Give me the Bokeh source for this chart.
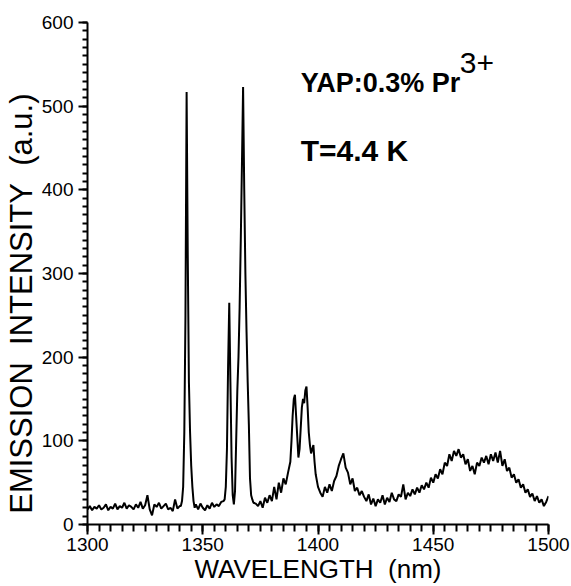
from bokeh.plotting import figure
from bokeh.models import Range1d, Label, SingleIntervalTicker
from bokeh.embed import file_html
from bokeh.resources import INLINE

# ---- data ----
wavelength_nm = [
    1300, 1301, 1302, 1303, 1304, 1305, 1306, 1307, 1308, 1309,
    1310, 1311, 1312, 1313, 1314, 1315, 1316, 1317, 1318, 1319,
    1320, 1321, 1322, 1323, 1324, 1325, 1326, 1327, 1328, 1329,
    1330, 1331, 1332, 1333, 1334, 1335, 1336, 1337, 1338, 1339, 1340,
    1340.5, 1341, 1341.5, 1342, 1342.5, 1343, 1343.5, 1344, 1344.5, 1345, 1345.5, 1346, 1346.5,
    1347, 1348, 1349, 1350, 1351, 1352, 1353, 1354, 1355, 1356, 1357, 1358,
    1359, 1359.5, 1360, 1360.5, 1361, 1361.5, 1362, 1362.5, 1363, 1363.5,
    1364, 1364.5, 1365, 1365.5, 1366, 1366.5, 1367, 1367.5, 1368, 1368.5,
    1369, 1369.5, 1370, 1370.5, 1371, 1371.5, 1372,
    1373, 1374, 1375, 1376, 1377, 1378, 1379, 1380, 1381, 1382, 1383, 1384, 1385, 1386, 1387, 1388,
    1388.5, 1389, 1389.5, 1390, 1390.5, 1391, 1391.5, 1392, 1392.5, 1393, 1393.5,
    1394, 1394.5, 1395, 1395.5, 1396, 1396.5, 1397, 1397.5, 1398, 1398.5, 1399,
    1400, 1401, 1402, 1403, 1404, 1405, 1406, 1407, 1408, 1409,
    1410, 1411, 1412, 1413, 1414, 1415, 1416, 1417, 1418, 1419,
    1420, 1421, 1422, 1423, 1424, 1425, 1426, 1427, 1428, 1429,
    1430, 1431, 1432, 1433, 1434, 1435, 1436, 1437, 1438, 1439,
    1440, 1441, 1442, 1443, 1444, 1445, 1446, 1447, 1448, 1449,
    1450, 1451, 1452, 1453, 1454, 1455, 1456, 1457, 1458, 1459,
    1460, 1461, 1462, 1463, 1464, 1465, 1466, 1467, 1468, 1469,
    1470, 1471, 1472, 1473, 1474, 1475, 1476, 1477, 1478, 1479,
    1480, 1481, 1482, 1483, 1484, 1485, 1486, 1487, 1488, 1489,
    1490, 1491, 1492, 1493, 1494, 1495, 1496, 1497, 1498, 1499, 1500,
]

intensity_au = [
    18, 22, 17, 21, 19, 23, 18, 20, 24, 17,
    21, 19, 25, 18, 22, 20, 26, 19, 23, 21,
    18, 24, 20, 27, 19, 23, 35, 18, 11, 24,
    21, 26, 19, 22, 25, 18, 20, 16, 30, 19, 22,
    22, 28, 45, 110, 250, 517, 320, 170, 110, 70, 45, 28, 20,
    24, 18, 25, 20, 17, 23, 19, 26, 21, 24, 22, 27,
    28, 30, 45, 90, 190, 265, 170, 80, 35, 24,
    40, 100, 160, 200, 260, 340, 430, 523, 400, 300,
    230, 170, 120, 55, 35, 30, 26,
    25, 22, 28, 20, 32, 26, 35, 28, 45, 30, 50, 38, 55, 48, 62, 75,
    100, 130, 150, 155, 130, 105, 80, 90, 115, 140, 150,
    145, 160, 165, 140, 110, 95, 85, 90, 95, 75, 60,
    45, 38, 33, 45, 38, 48, 40, 52, 58, 70,
    78, 85, 68, 62, 48, 55, 40, 44, 35, 40,
    33, 28, 36, 24, 31, 22, 30, 26, 35, 24,
    32, 27, 38, 30, 28, 36, 33, 48, 30, 38,
    34, 42, 36, 44, 38, 47, 42, 50, 44, 56,
    50, 60, 55, 66, 60, 74, 70, 84, 76, 88,
    82, 90, 80, 84, 72, 78, 64, 70, 60, 74,
    70, 80, 74, 82, 72, 84, 76, 86, 74, 88,
    70, 78, 64, 68, 56, 60, 50, 54, 44, 48,
    38, 42, 33, 37, 28, 34, 26, 30, 22, 27, 34,
]

NB = "\u00a0"
x_label = "WAVELENGTH" + NB * 2 + "(nm)"
# trailing no-break spaces push the rotated title slightly below the frame centre, as in the reference
y_label = "EMISSION" + NB * 2 + "INTENSITY" + NB * 2 + "(a.u.)" + NB * 7
sample_text = "YAP:0.3% Pr"
ion_charge = "3+"
temperature_text = "T=4.4 K"

FONT = "Liberation Sans"

p = figure(width=571, height=586, output_backend="svg", toolbar_location=None,
           x_range=Range1d(1300, 1500), y_range=Range1d(0, 600),
           min_border_left=87, min_border_right=23, min_border_top=22,
           min_border_bottom=62)
p.outline_line_color = None
p.xgrid.visible = False
p.ygrid.visible = False
p.background_fill_color = "white"
p.border_fill_color = "white"

p.line(wavelength_nm, intensity_au, color="black", line_width=2)

# x axis
xa = p.xaxis[0]
xa.ticker = SingleIntervalTicker(interval=50, num_minor_ticks=10)
xa.axis_line_width = 2
xa.axis_line_color = "black"
xa.major_tick_line_width = 2
xa.minor_tick_line_width = 2
xa.major_tick_line_color = "black"
xa.minor_tick_line_color = "black"
xa.major_tick_in = 0
xa.major_tick_out = 10
xa.minor_tick_in = 0
xa.minor_tick_out = 7
xa.major_label_text_font = FONT
xa.major_label_text_font_size = "19px"
xa.major_label_text_color = "black"
xa.major_label_standoff = 3
xa.axis_label = x_label
xa.axis_label_text_font = FONT
xa.axis_label_text_font_size = "26px"
xa.axis_label_text_font_style = "normal"
xa.axis_label_text_color = "black"
xa.axis_label_standoff = 0

# y axis
ya = p.yaxis[0]
ya.ticker = SingleIntervalTicker(interval=100, num_minor_ticks=10)
ya.axis_line_width = 2
ya.axis_line_color = "black"
ya.major_tick_line_width = 2
ya.minor_tick_line_width = 2
ya.major_tick_line_color = "black"
ya.minor_tick_line_color = "black"
ya.major_tick_in = 0
ya.major_tick_out = 9
ya.minor_tick_in = 0
ya.minor_tick_out = 5
ya.major_label_text_font = FONT
ya.major_label_text_font_size = "19px"
ya.major_label_text_color = "black"
ya.major_label_standoff = 5
ya.axis_label = y_label
ya.axis_label_text_font = FONT
ya.axis_label_text_font_size = "31px"
ya.axis_label_text_font_style = "normal"
ya.axis_label_text_color = "black"
ya.axis_label_standoff = 0

# annotations
p.add_layout(Label(x=1392.5, y=528, text=sample_text, text_font=FONT,
                   text_font_size="27px", text_font_style="bold",
                   text_color="black", text_baseline="alphabetic"))
p.add_layout(Label(x=1461.5, y=551, text=ion_charge, text_font=FONT,
                   text_font_size="30px", text_font_style="normal",
                   text_color="black", text_baseline="alphabetic"))
p.add_layout(Label(x=1392.5, y=447, text=temperature_text, text_font=FONT,
                   text_font_size="30px", text_font_style="bold",
                   text_color="black", text_baseline="alphabetic"))

open("out.html", "w").write(file_html(p, INLINE))
